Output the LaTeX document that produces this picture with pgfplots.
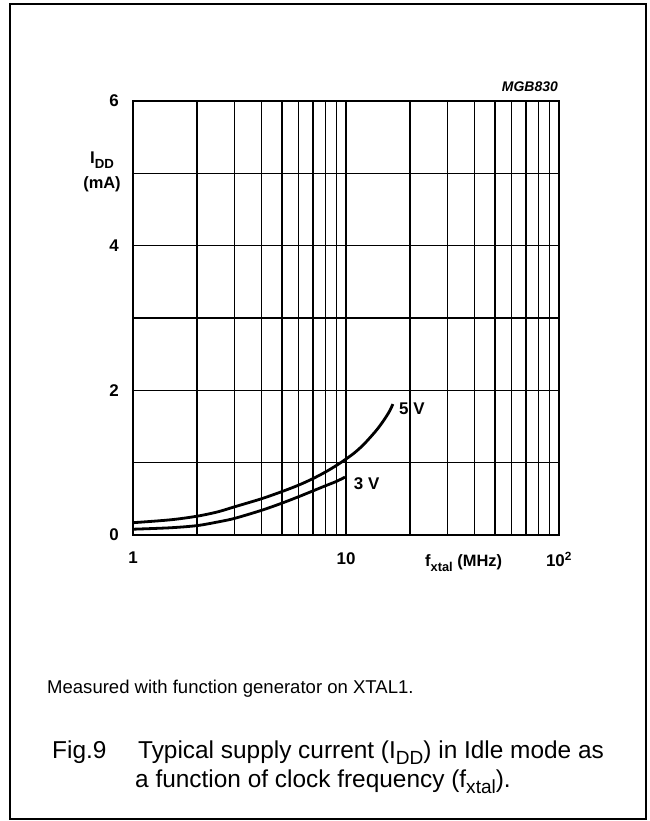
\documentclass[border=0pt]{standalone}
\usepackage{fontspec}
\setmainfont{Liberation Sans}
\usepackage{pgfplots}
\pgfplotsset{compat=1.18}
\makeatletter
\newcommand{\sub}[1]{\raisebox{-0.28em}{\fontsize{\dimexpr0.78\dimexpr\f@size pt\relax\relax}{1em}\selectfont #1}}
\makeatother
\begin{document}
\begin{tikzpicture}[x=1bp,y=1bp]
\path[use as bounding box] (-133,-286) rectangle (517,535);
\draw[line width=1.5bp] (-123,-284) rectangle (513,531);
\begin{axis}[
  at={(0,0)}, anchor=south west,
  scale only axis, width=426bp, height=434bp,
  xmode=log, xmin=1, xmax=100, ymin=0, ymax=6,
  xtick={1,10,100}, xticklabels={1,10,10\textsuperscript{2}},
  ytick={0,2,4,6}, minor ytick={1,3,5},
  xmajorgrids, xminorgrids, ymajorgrids, yminorgrids,
  grid style={black, line width=1.3bp},
  minor grid style={black, line width=1.3bp},
  axis line style={line width=1.5bp},
  major tick length=0pt, minor tick length=0pt,
  /pgf/number format/assume math mode=true,
  tick label style={font=\fontsize{17}{20}\selectfont\bfseries},
  xticklabel style={anchor=north, inner sep=0pt, yshift=-17bp},
  yticklabel style={anchor=east, inner sep=0pt, xshift=-14bp},
  clip=false,
]
\addplot[black, line width=2.8bp, smooth] coordinates {
 (1,0.17) (1.5,0.21) (2,0.26) (2.5,0.32) (3,0.39) (4,0.50) (5,0.60) (6,0.69) (7,0.78) (8,0.87) (9,0.96) (10,1.05) (11,1.14) (12,1.24) (13,1.35) (14,1.46) (15,1.58) (16,1.71) (16.6,1.81)};
\addplot[black, line width=2.8bp, smooth] coordinates {
 (1,0.08) (1.5,0.10) (2,0.13) (2.5,0.18) (3,0.23) (4,0.34) (5,0.44) (6,0.53) (7,0.61) (8,0.68) (9,0.74) (9.9,0.80)};
\node[font=\fontsize{17}{20}\selectfont\bfseries, inner sep=0pt] at (axis cs:20.4,1.742) {5 V};
\node[font=\fontsize{17}{20}\selectfont\bfseries, inner sep=0pt] at (axis cs:12.5,0.705) {3 V};
\end{axis}
\node[anchor=base east, inner sep=0pt, font=\fontsize{14}{16}\selectfont\itshape\bfseries] at (425,443) {MGB830};
\node[anchor=base, inner sep=0pt, font=\fontsize{17}{20}\selectfont\bfseries] at (-31,371) {I\sub{DD}};
\node[anchor=base, inner sep=0pt, font=\fontsize{16.5}{20}\selectfont\bfseries] at (-31,346.5) {(mA)};
\node[anchor=base west, inner sep=0pt, font=\fontsize{16.5}{20}\selectfont\bfseries] at (292,-32) {f\sub{xtal} (MHz)};
\node[anchor=base west, inner sep=0pt, font=\fontsize{18.6}{22}\selectfont] at (-86,-158) {Measured with function generator on XTAL1.};
\node[anchor=base west, inner sep=0pt, font=\fontsize{24.5}{29}\selectfont] at (-81,-223) {Fig.9};
\node[anchor=base west, inner sep=0pt, font=\fontsize{24.5}{29}\selectfont] at (5,-223) {Typical supply current (I\sub{DD}) in Idle mode as};
\node[anchor=base west, inner sep=0pt, font=\fontsize{24.5}{29}\selectfont] at (2,-252) {a function of clock frequency (f\sub{xtal}).};
\end{tikzpicture}
\end{document}
